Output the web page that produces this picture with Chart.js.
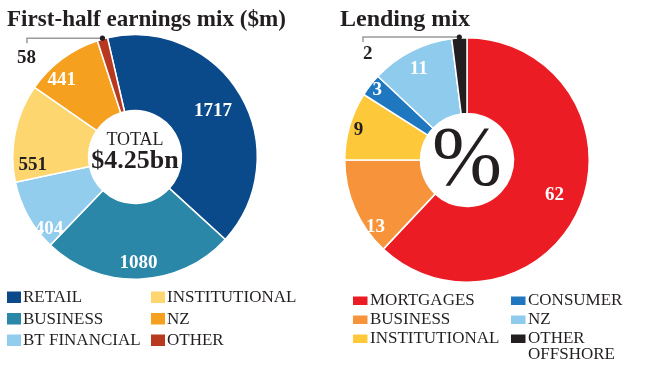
<!DOCTYPE html>
<html>
<head>
<meta charset="utf-8">
<script src="https://cdn.jsdelivr.net/npm/chart.js@4.4.0/dist/chart.umd.min.js"></script>
<style>
html, body { margin: 0; padding: 0; background: #fff; }
#wrap { position: relative; width: 650px; height: 366px; overflow: hidden; }
canvas { position: absolute; top: 0; }
#earnings { left: 0; }
#lending { left: 325px; }
</style>
</head>
<body>
<div id="wrap">
    <canvas id="earnings" width="325" height="366"></canvas>
    <canvas id="lending" width="325" height="366"></canvas>
</div>
<script>
// first-half earnings, $m
const earningsLabels = ['RETAIL', 'BUSINESS', 'BT FINANCIAL', 'INSTITUTIONAL', 'NZ', 'OTHER']
const earningsValues = [1717, 1080, 404, 551, 441, 58]
const earningsColors = ['#0b4a8a', '#2b87a8', '#93cdee', '#fdd66f', '#f5a11f', '#b8391f']

// lending mix, %
const lendingLabels = ['MORTGAGES', 'BUSINESS', 'INSTITUTIONAL', 'CONSUMER', 'NZ', ['OTHER', 'OFFSHORE']]
const lendingValues = [62, 13, 9, 3, 11, 2]
const lendingColors = ['#ec1c24', '#f7943b', '#fdc93b', '#1f77c0', '#8ecbec', '#231f20']

const SERIF = '"Liberation Serif", "DejaVu Serif", serif'
const INK = '#231f20'

// title, numbers on slices, leader for the thin slice, centre text, 2-column legend
const pieExtras = {
    id: 'pieExtras',
    afterDatasetsDraw(chart, args, o) {
        const ctx = chart.ctx
        const arcs = chart.getDatasetMeta(0).data
        const values = chart.data.datasets[0].data
        ctx.save()
        ctx.font = `bold 19px ${SERIF}`
        ctx.textAlign = 'center'
        ctx.textBaseline = 'middle'
        arcs.forEach((arc, i) => {
            if (i === o.leaderIndex) return
            const p = arc.getProps(['x', 'y', 'startAngle', 'endAngle', 'outerRadius'], true)
            const mid = (p.startAngle + p.endAngle) / 2 + (o.labelTurn[i] || 0) * Math.PI / 180
            const r = p.outerRadius * o.labelRadius[i]
            ctx.fillStyle = o.labelColors[i]
            ctx.fillText(values[i], p.x + r * Math.cos(mid), p.y + r * Math.sin(mid))
        })

        // leader line to the small slice
        const a = arcs[o.leaderIndex].getProps(['x', 'y', 'startAngle', 'endAngle', 'outerRadius'], true)
        const m = (a.startAngle + a.endAngle) / 2
        const px = a.x + a.outerRadius * Math.cos(m)
        const py = a.y + a.outerRadius * Math.sin(m) - 1
        ctx.strokeStyle = '#9a9a9a'
        ctx.lineWidth = 1.5
        ctx.beginPath()
        ctx.moveTo(px, py)
        ctx.lineTo(o.leaderX, py)
        ctx.lineTo(o.leaderX, py + 5)
        ctx.stroke()
        ctx.fillStyle = INK
        ctx.beginPath()
        ctx.arc(px, py, 2.6, 0, Math.PI * 2)
        ctx.fill()
        ctx.textAlign = 'left'
        ctx.textBaseline = 'alphabetic'
        ctx.fillText(values[o.leaderIndex], o.leaderTextX, py + o.leaderTextDy)

        // centre text
        ctx.textAlign = 'center'
        o.center.forEach(c => {
            ctx.font = c.font
            ctx.fillText(typeof c.text === 'function' ? c.text(values) : c.text, a.x, a.y + c.dy)
        })
        ctx.restore()
    },
    afterDraw(chart, args, o) {
        const ctx = chart.ctx
        const lg = o.legend
        const labels = chart.data.labels
        const colors = chart.data.datasets[0].backgroundColor
        const half = Math.ceil(labels.length / 2)
        ctx.save()
        ctx.textAlign = 'left'
        ctx.textBaseline = 'alphabetic'
        ctx.fillStyle = INK
        ctx.font = `bold 24px ${SERIF}`
        ctx.fillText(o.title.text, o.title.x, o.title.y, o.title.maxWidth)

        ctx.font = lg.font
        labels.forEach((lab, i) => {
            const col = i < half ? 0 : 1
            const row = i < half ? i : i - half
            const x = lg.cols[col]
            const y = lg.top + row * lg.step
            ctx.fillStyle = colors[i]
            ctx.fillRect(x, y - lg.box[1] - lg.boxLift, lg.box[0], lg.box[1])
            ctx.fillStyle = INK
            const lines = Array.isArray(lab) ? lab : [lab]
            lines.forEach((t, k) => ctx.fillText(t, x + lg.textOffset, y + k * lg.lineStep))
        })
        ctx.restore()
    },
}

function makePie(id, labels, values, colors, rotation, padding, extras) {
    return new Chart(document.getElementById(id), {
        type: 'doughnut',
        data: {
            labels,
            datasets: [{
                data: values,
                backgroundColor: colors,
                borderColor: '#fff',
                borderWidth: 1.5,
            }],
        },
        options: {
            responsive: false,
            animation: false,
            devicePixelRatio: 1,
            rotation,
            cutout: '38%',
            layout: { padding },
            plugins: {
                legend: { display: false },
                tooltip: { enabled: false },
                pieExtras: extras,
            },
        },
        plugins: [pieExtras],
    })
}

makePie('earnings', earningsLabels, earningsValues, earningsColors, -13,
    { left: 12, right: 67, top: 34, bottom: 86 },
    {
        title: { text: 'First-half earnings mix ($m)', x: 7, y: 26, maxWidth: 279 },
        labelRadius: [0.74, 0.87, 0.92, 0.84, 0.87],
        labelTurn: [0, 0, -11, -16, -7],
        labelColors: ['#fff', '#fff', '#fff', INK, '#fff', INK],
        leaderIndex: 5,
        leaderX: 27,
        leaderTextX: 17,
        leaderTextDy: 25,
        center: [
            { text: 'TOTAL', font: `18px ${SERIF}`, dy: -12 },
            { text: v => '$' + (v.reduce((s, x) => s + x, 0) / 1000).toFixed(2) + 'bn', font: `bold 26px ${SERIF}`, dy: 11 },
        ],
        legend: { cols: [7, 151], textOffset: 16, top: 302, step: 21.5, lineStep: 16, box: [14, 11.5], boxLift: -1, font: `17px ${SERIF}` },
    })

makePie('lending', lendingLabels, lendingValues, lendingColors, 0,
    { left: 19, right: 60, top: 37, bottom: 83 },
    {
        title: { text: 'Lending mix', x: 15, y: 26, maxWidth: 300 },
        labelRadius: [0.77, 0.93, 0.92, 0.93, 0.84],
        labelTurn: [0, -13, -1, 0, -1],
        labelColors: ['#fff', '#fff', INK, '#fff', '#fff', INK],
        leaderIndex: 5,
        leaderX: 38,
        leaderTextX: 38,
        leaderTextDy: 22,
        center: [
            { text: '%', font: `84px ${SERIF}`, dy: 25 },
        ],
        legend: { cols: [28, 186], textOffset: 17, top: 305, step: 19, lineStep: 15.5, box: [14.5, 8.5], boxLift: 0, font: `17px ${SERIF}` },
    })
</script>
</body>
</html>
